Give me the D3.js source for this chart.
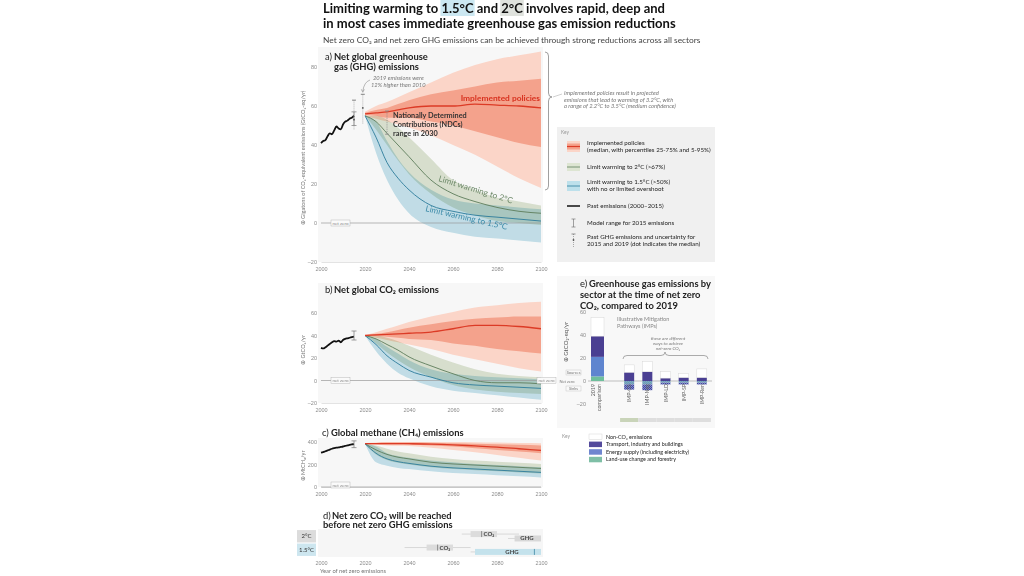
<!DOCTYPE html>
<html><head><meta charset="utf-8">
<script src="https://cdn.jsdelivr.net/npm/d3@7"></script>
<style>
body{margin:0;background:#fff;}
svg{display:block;font-family:Lato,"Open Sans",sans-serif;}
</style></head><body>
<svg id="chart" width="1024" height="576"></svg>
<script>
// ---------- data ----------
const xTicks = [2000, 2020, 2040, 2060, 2080, 2100];
const projYears = [2020, 2025, 2030, 2035, 2040, 2050, 2060, 2070, 2080, 2090, 2100];
const pastYears = [2000, 2001, 2002, 2003, 2004, 2005, 2006, 2007, 2008, 2009, 2010, 2011, 2012, 2013, 2014, 2015];

// a) net GHG, GtCO2-eq/yr
const ghgPast   = [41, 42, 42.5, 44.5, 46, 45.5, 47.5, 49.5, 48.5, 48, 50.5, 52, 52.5, 53.5, 54, 55];
const ghgImplMed = [56, 56.5, 57, 58, 59, 60, 60, 61, 60.5, 60, 59];
const ghgImpl25  = [55.5, 55, 54, 54, 54, 52, 50, 47, 44, 41, 39];
const ghgImpl75  = [56.5, 58, 59, 61, 63, 66, 68, 70, 72, 73, 74];
const ghgImpl5   = [55, 53.5, 52, 50.5, 49, 45, 40, 35, 29, 23, 18];
const ghgImpl95  = [57, 60, 62, 64.5, 67, 72, 77, 81, 84, 86, 88];
const ghg2Med  = [55, 52, 46, 40, 34, 22, 15, 11, 8, 6, 5];
const ghg2Lo   = [55, 48, 40, 32, 25, 15, 8, 4, 1, 0, -1];
const ghg2Hi   = [55, 55, 53, 49, 44, 33, 22, 17, 13, 11, 9];
const ghg15Med = [55, 44, 31, 23, 17, 9, 6, 4, 3, 2, 1];
const ghg15Lo  = [55, 36, 22, 12, 5, -2, -5, -7, -8, -9, -10];
const ghg15Hi  = [55, 52, 42, 33, 26, 17, 12, 10, 9, 8, 7];

// b) net CO2, GtCO2/yr
const co2Past   = [29, 28.5, 29.5, 31, 32.5, 34, 35, 34.5, 35.5, 34, 36, 37, 37.5, 38, 38.5, 39];
const co2ImplMed = [40, 40.5, 41, 41.5, 42, 43, 46, 49, 49, 48, 46];
const co2Impl25  = [40, 39.5, 39, 38, 37, 36, 33, 31, 28, 26, 24];
const co2Impl75  = [40, 41.5, 43, 45, 47, 50, 53, 55, 56, 57, 57];
const co2Impl5   = [39.5, 38, 36, 34, 32, 28, 23, 19, 15, 11, 8];
const co2Impl95  = [40.5, 43, 46, 49, 52, 57, 61, 65, 67, 69, 70];
const co22Med  = [40, 37, 32, 27, 21, 13, 6, 0, -2, -2, -3];
const co22Lo   = [40, 33, 25, 18, 12, 3, -4, -8, -10, -11, -12];
const co22Hi   = [40, 40, 38, 35, 31, 23, 16, 10, 6, 4, 3];
const co215Med = [40, 32, 22, 15, 9, 3, -2, -4, -5, -6, -7];
const co215Lo  = [40, 26, 15, 7, 2, -5, -9, -11, -13, -15, -17];
const co215Hi  = [40, 37, 30, 24, 18, 10, 6, 4, 3, 2, 1];

// c) methane, MtCH4/yr
const ch4Past   = [305, 310, 318, 325, 333, 340, 345, 349, 352, 356, 360, 365, 370, 374, 378, 382];
const ch4ImplMed = [385, 386, 386, 386, 385, 382, 375, 365, 355, 340, 325];
const ch4Impl25  = [383, 380, 378, 377, 375, 370, 360, 345, 330, 315, 300];
const ch4Impl75  = [388, 392, 395, 395, 395, 393, 390, 385, 380, 375, 370];
const ch4Impl5   = [380, 375, 370, 367, 365, 350, 330, 310, 285, 260, 235];
const ch4Impl95  = [392, 396, 400, 400, 400, 400, 400, 398, 395, 392, 390];
const ch42Med  = [385, 330, 290, 265, 250, 220, 205, 195, 185, 175, 165];
const ch42Lo   = [385, 290, 240, 215, 200, 175, 160, 150, 140, 130, 120];
const ch42Hi   = [385, 370, 340, 315, 300, 270, 250, 235, 225, 215, 205];
const ch415Med = [385, 300, 250, 225, 210, 185, 170, 160, 150, 140, 130];
const ch415Lo  = [385, 220, 190, 170, 160, 140, 125, 115, 105, 95, 85];
const ch415Hi  = [385, 360, 300, 275, 260, 235, 220, 205, 195, 185, 175];

// d) year of net zero
const nzCats = ["2°C", "1.5°C"];
const nzCo2Range = [[2064, 2090], [2038, 2068]];
const nzCo2Box   = [[2068, 2080], [2048, 2060]];
const nzCo2Med   = [2073, 2053];
const nzGhgRange = [[2085, 2100], [2068, 2100]];
const nzGhgBox   = [[2088, 2100], [2070, 2100]];
const nzGhgMed   = [null, 2097];

// e) sector emissions at net zero CO2
const eBars      = ["2019 comparison", "IMP-GS", "IMP-Neg", "IMP-LD", "IMP-SP", "IMP-Ren"];
const eLand      = [4, -3, -3, -1.5, -1.5, -1.5];
const eEnergy    = [17, -4.5, -5, -1.5, -1.5, -1.5];
const eTransport = [18, 7.5, 8, 2.5, 3, 3];
const eNonCO2    = [16, 6.5, 9, 5.5, 3.5, 7.5];
const eCategory  = [null, "2°C", "1.5°C", "1.5°C", "1.5°C", "1.5°C"];
const eTicks = [-20, 0, 20, 40, 60];

// ---------- drawing ----------
const svg = d3.select("#chart");
const defs = svg.append("defs");
const col = {
  impl5: "#fbd5c8", impl25: "#f4a28c", implLine: "#dc3b26",
  c2Band: "#dde5d2", c2Line: "#5e7d5b", c15Band: "#bde0eb", c15Line: "#2c7c9b",
  tick: "#8c8c8c", text: "#222"
};
const PT = 9.4; // panel title size

function checker(id, a, b) {
  const p = defs.append("pattern").attr("id", id).attr("width", 2).attr("height", 2)
    .attr("patternUnits", "userSpaceOnUse");
  p.append("rect").attr("width", 2).attr("height", 2).attr("fill", a);
  p.append("rect").attr("width", 1).attr("height", 1).attr("fill", b);
  p.append("rect").attr("x", 1).attr("y", 1).attr("width", 1).attr("height", 1).attr("fill", b);
}
checker("negEnergy", "#7b8cd2", "#4a4596");
checker("negLand", "#7fbfa6", "#6b86cf");

const x = d3.scaleLinear().domain([2000, 2100]).range([321, 541]);

function txt(g, s, px, py, size, opts = {}) {
  const t = g.append("text").attr("x", px).attr("y", py).attr("font-size", size)
    .attr("fill", opts.fill || col.text).text(s);
  if (opts.bold) t.attr("font-weight", "bold");
  if (opts.italic) t.attr("font-style", "italic");
  if (opts.anchor) t.attr("text-anchor", opts.anchor);
  if (opts.rotate) t.attr("transform", `rotate(${opts.rotate},${px},${py})`);
  return t;
}

function netZeroTag(g, px, py) {
  g.append("rect").attr("x", px).attr("y", py - 3).attr("width", 19).attr("height", 6)
    .attr("fill", "#fafafa").attr("stroke", "#aaa").attr("stroke-width", 0.4);
  txt(g, "net zero", px + 9.5, py + 1.8, 4.5, { fill: "#888", anchor: "middle" });
}

function vBrace(g, bx, y1, y2, tipY, w) {
  const p = d3.path();
  p.moveTo(bx, y1);
  p.quadraticCurveTo(bx + w / 2, y1, bx + w / 2, y1 + 4);
  p.lineTo(bx + w / 2, tipY - 4);
  p.quadraticCurveTo(bx + w / 2, tipY, bx + w, tipY);
  p.quadraticCurveTo(bx + w / 2, tipY, bx + w / 2, tipY + 4);
  p.lineTo(bx + w / 2, y2 - 4);
  p.quadraticCurveTo(bx + w / 2, y2, bx, y2);
  g.append("path").attr("d", p.toString()).attr("fill", "none").attr("stroke", "#777").attr("stroke-width", 0.7);
}

function scenarioPanel(o) {
  const g = svg.append("g");
  const y = d3.scaleLinear().domain(o.yDomain).range(o.yRange);
  g.append("rect").attr("x", 318).attr("y", o.bgTop).attr("width", 225)
    .attr("height", o.yRange[0] - o.bgTop).attr("fill", "#f7f7f7");

  const area = (lo, hi) => d3.area().curve(d3.curveMonotoneX)
    .x((d, i) => x(projYears[i])).y0((d, i) => y(lo[i])).y1((d, i) => y(hi[i]))(projYears);
  const line = (v, yrs) => d3.line().curve(d3.curveMonotoneX)
    .x((d, i) => x(yrs[i])).y((d, i) => y(v[i]))(yrs);

  g.append("path").attr("d", area(o.impl5, o.impl95)).attr("fill", col.impl5);
  g.append("path").attr("d", area(o.impl25, o.impl75)).attr("fill", col.impl25);
  g.append("path").attr("d", area(o.c2Lo, o.c2Hi)).attr("fill", col.c2Band)
    .attr("opacity", 0.95).style("mix-blend-mode", "multiply");
  g.append("path").attr("d", area(o.c15Lo, o.c15Hi)).attr("fill", col.c15Band)
    .attr("opacity", 0.85).style("mix-blend-mode", "multiply");

  if (o.zero) {
    g.append("line").attr("x1", 321).attr("x2", 541).attr("y1", y(0)).attr("y2", y(0))
      .attr("stroke", "#9a9a9a").attr("stroke-width", 0.7);
    netZeroTag(g, 331, y(0));
  }

  g.append("path").attr("d", line(o.c2Med, projYears)).attr("fill", "none").attr("stroke", col.c2Line).attr("stroke-width", 0.9);
  g.append("path").attr("d", line(o.c15Med, projYears)).attr("fill", "none").attr("stroke", col.c15Line).attr("stroke-width", 0.9);
  g.append("path").attr("d", line(o.implMed, projYears)).attr("fill", "none").attr("stroke", col.implLine).attr("stroke-width", 1.3);
  g.append("path").attr("d", d3.line().curve(d3.curveMonotoneX).x((d, i) => x(pastYears[i])).y(d => y(d))(o.past))
    .attr("fill", "none").attr("stroke", "#111").attr("stroke-width", 1.8);

  // model range I-bar for 2015
  const [m0, m1] = o.modelRange;
  const ib = g.append("g").attr("stroke", "#777").attr("stroke-width", 0.7);
  ib.append("line").attr("x1", x(2015)).attr("x2", x(2015)).attr("y1", y(m0)).attr("y2", y(m1));
  ib.append("line").attr("x1", x(2015) - 2.5).attr("x2", x(2015) + 2.5).attr("y1", y(m0)).attr("y2", y(m0));
  ib.append("line").attr("x1", x(2015) - 2.5).attr("x2", x(2015) + 2.5).attr("y1", y(m1)).attr("y2", y(m1));

  const ax = g.append("g").attr("transform", `translate(0,${o.yRange[0]})`)
    .call(d3.axisBottom(x).tickValues(xTicks).tickSize(0).tickPadding(5).tickFormat(d3.format("d")));
  ax.select(".domain").attr("stroke", "#d0d0d0").attr("stroke-width", 0.6);
  ax.selectAll("text").attr("font-size", 5.5).attr("fill", col.tick).attr("font-family", null);
  const ay = g.append("g").attr("transform", "translate(320,0)")
    .call(d3.axisLeft(y).tickValues(o.yTicks).tickSize(0).tickPadding(3).tickFormat(d => d < 0 ? "–" + (-d) : d));
  ay.select(".domain").remove();
  ay.selectAll("text").attr("font-size", 5.5).attr("fill", col.tick).attr("font-family", null);

  txt(g, o.yLabel, 305, o.yLabelY, 5.6, { fill: "#777", anchor: "middle", rotate: -90 });
  return { g, y };
}

// title
const title = svg.append("g");
const t1 = "Limiting warming to 1.5°C and 2°C involves rapid, deep and";
const l1 = txt(title, t1, 323, 13, 13, { bold: true, fill: "#111" });
txt(title, "in most cases immediate greenhouse gas emission reductions", 323, 28, 13, { bold: true, fill: "#111" });
[["1.5°C", "#cbe7f1"], ["2°C", "#dfe2dd"]].forEach(([s, c]) => {
  const i = t1.indexOf(s), n = l1.node();
  const a = n.getExtentOfChar(i), b = n.getExtentOfChar(i + s.length - 1);
  title.insert("rect", "text").attr("x", a.x - 1).attr("y", a.y).attr("width", b.x + b.width - a.x + 2)
    .attr("height", a.height).attr("fill", c);
});
txt(title, "Net zero  CO₂ and net zero GHG emissions can be achieved through strong reductions across all sectors", 323, 43, 8.4, { fill: "#444" });

// a) GHG panel
const pa = scenarioPanel({
  yDomain: [-20, 80], yRange: [262, 67], bgTop: 47, yTicks: [-20, 0, 20, 40, 60, 80], zero: true,
  past: ghgPast, implMed: ghgImplMed, impl25: ghgImpl25, impl75: ghgImpl75, impl5: ghgImpl5, impl95: ghgImpl95,
  c2Med: ghg2Med, c2Lo: ghg2Lo, c2Hi: ghg2Hi, c15Med: ghg15Med, c15Lo: ghg15Lo, c15Hi: ghg15Hi,
  modelRange: [50, 57], yLabel: "⊕ Gigatons of CO₂-equivalent emissions (GtCO₂-eq/yr)", yLabelY: 158
});
txt(pa.g, "a)", 325, 60, PT, {});
txt(pa.g, "Net global greenhouse", 334, 60, PT, { bold: true });
txt(pa.g, "gas (GHG) emissions", 334, 70, PT, { bold: true });
txt(pa.g, "Implemented policies", 540, 101, 8.4, { bold: true, fill: "#d8321f", anchor: "end" });
txt(pa.g, "Nationally Determined", 393, 118, 7.3, { bold: true, fill: "#333" });
txt(pa.g, "Contributions (NDCs)", 393, 127, 7.3, { bold: true, fill: "#333" });
txt(pa.g, "range in 2030", 393, 136, 7.3, { bold: true, fill: "#333" });
txt(pa.g, "Limit warming to 2°C", 438, 181, 8.3, { fill: "#6e8a6a", rotate: 17 });
txt(pa.g, "Limit warming to 1.5°C", 425, 211, 8.3, { fill: "#3b8aa8", rotate: 13 });
// NDC range 2030
const ndc = pa.g.append("g").attr("stroke", "#888").attr("stroke-width", 0.7);
ndc.append("line").attr("x1", x(2030)).attr("x2", x(2030)).attr("y1", pa.y(45.5)).attr("y2", pa.y(57.5)).attr("stroke-dasharray", "1.2,1");
ndc.append("line").attr("x1", x(2030) - 2).attr("x2", x(2030) + 2).attr("y1", pa.y(45.5)).attr("y2", pa.y(45.5));
ndc.append("line").attr("x1", x(2030) - 2).attr("x2", x(2030) + 2).attr("y1", pa.y(57.5)).attr("y2", pa.y(57.5));
// past uncertainty 2015 / 2019
[[2015, 48, 63, 53], [2019, 51, 66, 59]].forEach(([yr, lo, hi, med]) => {
  pa.g.append("line").attr("x1", x(yr)).attr("x2", x(yr)).attr("y1", pa.y(lo)).attr("y2", pa.y(hi))
    .attr("stroke", "#888").attr("stroke-width", 0.6).attr("stroke-dasharray", "1,1");
  pa.g.append("line").attr("x1", x(yr) - 2).attr("x2", x(yr) + 2).attr("y1", pa.y(hi)).attr("y2", pa.y(hi)).attr("stroke", "#555").attr("stroke-width", 0.7);
  pa.g.append("circle").attr("cx", x(yr)).attr("cy", pa.y(med)).attr("r", 0.9).attr("fill", "#555");
});
txt(pa.g, "2019 emissions were", 373, 80, 5.8, { italic: true, fill: "#777" });
txt(pa.g, "12% higher than 2010", 371, 86.5, 5.8, { italic: true, fill: "#777" });
pa.g.append("path").attr("d", `M370,80 Q364,82 ${x(2019)},${pa.y(66) - 3}`).attr("fill", "none").attr("stroke", "#777").attr("stroke-width", 0.5);
pa.g.append("path").attr("d", `M${x(2019) - 1.5},${pa.y(66) - 5} L${x(2019)},${pa.y(66) - 2} L${x(2019) + 1.5},${pa.y(66) - 5}`).attr("fill", "none").attr("stroke", "#777").attr("stroke-width", 0.5);
vBrace(pa.g, 545, 52, 190, 97, 7);
pa.g.append("line").attr("x1", 553).attr("y1", 97).attr("x2", 562).attr("y2", 94).attr("stroke", "#888").attr("stroke-width", 0.4);
txt(pa.g, "Implemented policies result in projected", 564, 95, 5.8, { italic: true, fill: "#777" });
txt(pa.g, "emissions that lead to warming of 3.2°C, with", 564, 101.5, 5.8, { italic: true, fill: "#777" });
txt(pa.g, "a range of 2.2°C to 3.5°C (medium confidence)", 564, 108, 5.8, { italic: true, fill: "#777" });

// key for a-c
const KF = 6.2;
const key = svg.append("g");
key.append("rect").attr("x", 557).attr("y", 127).attr("width", 158).attr("height", 135).attr("fill", "#f0f0f0");
txt(key, "Key", 561, 134, 4.8, { fill: "#999" });
key.append("rect").attr("x", 567).attr("y", 141).attr("width", 13).attr("height", 11).attr("fill", col.impl5);
key.append("rect").attr("x", 567).attr("y", 143.5).attr("width", 13).attr("height", 6).attr("fill", col.impl25);
key.append("line").attr("x1", 567).attr("x2", 580).attr("y1", 146.5).attr("y2", 146.5).attr("stroke", col.implLine).attr("stroke-width", 1.2);
txt(key, "Implemented policies", 587, 145, KF, {});
txt(key, "(median, with percentiles 25-75% and 5-95%)", 587, 151.5, KF, {});
key.append("rect").attr("x", 567).attr("y", 163).attr("width", 13).attr("height", 8).attr("fill", col.c2Band);
key.append("line").attr("x1", 567).attr("x2", 580).attr("y1", 167).attr("y2", 167).attr("stroke", col.c2Line).attr("stroke-width", 0.8);
txt(key, "Limit warming to 2°C (>67%)", 587, 169, KF, {});
key.append("rect").attr("x", 567).attr("y", 181).attr("width", 13).attr("height", 10).attr("fill", col.c15Band);
key.append("line").attr("x1", 567).attr("x2", 580).attr("y1", 186).attr("y2", 186).attr("stroke", col.c15Line).attr("stroke-width", 0.8);
txt(key, "Limit warming to 1.5°C (>50%)", 587, 184, KF, {});
txt(key, "with no or limited overshoot", 587, 190.5, KF, {});
key.append("line").attr("x1", 567).attr("x2", 580).attr("y1", 206).attr("y2", 206).attr("stroke", "#111").attr("stroke-width", 1.5);
txt(key, "Past emissions (2000–2015)", 587, 208, KF, {});
const ki = key.append("g").attr("stroke", "#666").attr("stroke-width", 0.6);
ki.append("line").attr("x1", 573.5).attr("x2", 573.5).attr("y1", 219).attr("y2", 227);
ki.append("line").attr("x1", 571.5).attr("x2", 575.5).attr("y1", 219).attr("y2", 219);
ki.append("line").attr("x1", 571.5).attr("x2", 575.5).attr("y1", 227).attr("y2", 227);
txt(key, "Model range for 2015 emissions", 587, 225, KF, {});
key.append("line").attr("x1", 573.5).attr("x2", 573.5).attr("y1", 234).attr("y2", 247).attr("stroke", "#777").attr("stroke-width", 0.6).attr("stroke-dasharray", "1,1");
key.append("line").attr("x1", 571.5).attr("x2", 575.5).attr("y1", 234).attr("y2", 234).attr("stroke", "#555").attr("stroke-width", 0.6);
key.append("circle").attr("cx", 573.5).attr("cy", 240).attr("r", 0.9).attr("fill", "#555");
txt(key, "Past GHG emissions and uncertainty for", 587, 239, KF, {});
txt(key, "2015 and 2019 (dot indicates the median)", 587, 245.5, KF, {});

// b) CO2 panel
const pb = scenarioPanel({
  yDomain: [-20, 60], yRange: [403, 313], bgTop: 283, yTicks: [-20, 0, 20, 40, 60], zero: true,
  past: co2Past, implMed: co2ImplMed, impl25: co2Impl25, impl75: co2Impl75, impl5: co2Impl5, impl95: co2Impl95,
  c2Med: co22Med, c2Lo: co22Lo, c2Hi: co22Hi, c15Med: co215Med, c15Lo: co215Lo, c15Hi: co215Hi,
  modelRange: [36, 44], yLabel: "⊕ GtCO₂/yr", yLabelY: 350
});
txt(pb.g, "b)", 325, 293, PT, {});
txt(pb.g, "Net global CO₂ emissions", 334, 293, PT, { bold: true });
netZeroTag(pb.g, 537, pb.y(0));

// c) CH4 panel
const pc = scenarioPanel({
  yDomain: [0, 400], yRange: [487, 442], bgTop: 438, yTicks: [0, 200, 400], zero: false,
  past: ch4Past, implMed: ch4ImplMed, impl25: ch4Impl25, impl75: ch4Impl75, impl5: ch4Impl5, impl95: ch4Impl95,
  c2Med: ch42Med, c2Lo: ch42Lo, c2Hi: ch42Hi, c15Med: ch415Med, c15Lo: ch415Lo, c15Hi: ch415Hi,
  modelRange: [350, 410], yLabel: "⊕ MtCH₄/yr", yLabelY: 466
});
txt(pc.g, "c)", 322, 436, PT, {});
txt(pc.g, "Global methane (CH₄) emissions", 331, 436, PT, { bold: true });
pc.g.append("line").attr("x1", 321).attr("x2", 541).attr("y1", 487).attr("y2", 487).attr("stroke", "#9a9a9a").attr("stroke-width", 0.7);
netZeroTag(pc.g, 331, 485);

// d) net zero years
const gd = svg.append("g");
txt(gd, "d)", 323, 519, PT, {});
txt(gd, "Net zero  CO₂ will be reached", 332, 519, PT, { bold: true });
txt(gd, "before  net zero  GHG emissions", 323, 528, PT, { bold: true });
const rowY = d3.scaleBand().domain(nzCats).range([529, 557]).padding(0.08);
gd.append("rect").attr("x", 318).attr("y", 529).attr("width", 225).attr("height", 28).attr("fill", "#f6f6f6");
nzCats.forEach((c, i) => {
  const ry = rowY(c), h = rowY.bandwidth();
  gd.append("rect").attr("x", 297).attr("y", ry).attr("width", 19).attr("height", h)
    .attr("fill", i === 0 ? "#dcdcdc" : "#cde6ef");
  txt(gd, c, 306.5, ry + h / 2 + 2, 6, { anchor: "middle", fill: "#333" });
  const cy = ry + 4, gy = ry + h - 4;
  gd.append("line").attr("x1", x(nzCo2Range[i][0])).attr("x2", x(nzCo2Range[i][1])).attr("y1", cy).attr("y2", cy).attr("stroke", "#bbb").attr("stroke-width", 0.5);
  gd.append("rect").attr("x", x(nzCo2Box[i][0])).attr("y", cy - 3).attr("width", x(nzCo2Box[i][1]) - x(nzCo2Box[i][0])).attr("height", 6).attr("fill", "#dcdcdc");
  gd.append("line").attr("x1", x(nzCo2Med[i])).attr("x2", x(nzCo2Med[i])).attr("y1", cy - 3).attr("y2", cy + 3).attr("stroke", "#555").attr("stroke-width", 0.6);
  txt(gd, "CO₂", x(nzCo2Med[i]) + 2, cy + 2, 6, { bold: true, fill: "#444" });
  gd.append("line").attr("x1", x(nzGhgRange[i][0])).attr("x2", x(nzGhgRange[i][1])).attr("y1", gy).attr("y2", gy).attr("stroke", "#bbb").attr("stroke-width", 0.5);
  gd.append("rect").attr("x", x(nzGhgBox[i][0])).attr("y", gy - 3).attr("width", x(nzGhgBox[i][1]) - x(nzGhgBox[i][0])).attr("height", 6)
    .attr("fill", i === 0 ? "#d8d8d8" : "#c4e2ec");
  if (nzGhgMed[i]) gd.append("line").attr("x1", x(nzGhgMed[i])).attr("x2", x(nzGhgMed[i])).attr("y1", gy - 3).attr("y2", gy + 3).attr("stroke", "#2c7c9b").attr("stroke-width", 0.7);
  txt(gd, "GHG", i === 0 ? 527 : 512, gy + 2, 6, { bold: true, fill: "#444", anchor: "middle" });
});
const dax = gd.append("g").attr("transform", "translate(0,557)")
  .call(d3.axisBottom(x).tickValues(xTicks).tickSize(0).tickPadding(4).tickFormat(d3.format("d")));
dax.select(".domain").remove();
dax.selectAll("text").attr("font-size", 5.5).attr("fill", col.tick).attr("font-family", null);
txt(gd, "Year of net zero emissions", 320, 573, 5.8, { fill: "#777" });

// e) sector bars
const ge = svg.append("g");
ge.append("rect").attr("x", 557).attr("y", 276).attr("width", 158).attr("height", 152).attr("fill", "#f8f8f8");
txt(ge, "e)", 580, 287, PT, {});
txt(ge, "Greenhouse gas emissions by", 589, 287, PT, { bold: true });
txt(ge, "sector at the time of net zero", 580, 298, PT, { bold: true });
txt(ge, "CO₂, compared to 2019", 580, 309, PT, { bold: true });
const yE = d3.scaleLinear().domain([-20, 60]).range([404, 312]);
const xE = d3.scaleBand().domain(eBars.slice(1)).range([616, 715]).padding(0.45);
const barX = (i) => i === 0 ? 591 : xE(eBars[i]);
const barW = (i) => i === 0 ? 13 : xE.bandwidth();
const eay = ge.append("g").attr("transform", "translate(588,0)")
  .call(d3.axisLeft(yE).tickValues(eTicks).tickSize(0).tickPadding(2).tickFormat(d => d < 0 ? "–" + (-d) : d));
eay.select(".domain").remove();
eay.selectAll("text").attr("font-size", 5.5).attr("fill", col.tick).attr("font-family", null);
txt(ge, "⊕ GtCO₂-eq/yr", 568, 342, 6, { fill: "#555", anchor: "middle", rotate: -90 });
ge.append("line").attr("x1", 588).attr("x2", 712).attr("y1", yE(0)).attr("y2", yE(0)).attr("stroke", "#999").attr("stroke-width", 0.6);
[["Sources", 373], ["Sinks", 389]].forEach(([s, yy]) => {
  ge.append("rect").attr("x", 566).attr("y", yy - 3).attr("width", 15).attr("height", 5).attr("fill", "#fafafa").attr("stroke", "#aaa").attr("stroke-width", 0.3);
  txt(ge, s, 573.5, yy + 1, 4, { fill: "#777", anchor: "middle" });
});
txt(ge, "Net zero", 567, yE(0) + 1.5, 4, { fill: "#777", anchor: "middle" });

const eSeg = [
  { v: eLand, pos: "#6fbf9c", neg: "url(#negLand)" },
  { v: eEnergy, pos: "#5f85cf", neg: "url(#negEnergy)" },
  { v: eTransport, pos: "#4a3f92", neg: "#4a3f92" },
  { v: eNonCO2, pos: "#ffffff", neg: "#ffffff" }
];
eBars.forEach((b, i) => {
  let up = 0, down = 0;
  eSeg.forEach(s => {
    const v = s.v[i];
    let y0, y1;
    if (v >= 0) { y0 = up; y1 = up + v; up = y1; } else { y0 = down + v; y1 = down; down = y0; }
    const r = ge.append("rect").attr("x", barX(i)).attr("width", barW(i))
      .attr("y", yE(y1)).attr("height", yE(y0) - yE(y1)).attr("fill", v >= 0 ? s.pos : s.neg);
    if (s.v === eNonCO2) r.attr("stroke", "#d0d0d0").attr("stroke-width", 0.4);
  });
  if (i > 0) {
    txt(ge, b, barX(i) + barW(i) / 2 + 2, 384, 5.3, { fill: "#666", anchor: "end", rotate: -90 });
    ge.append("rect").attr("x", barX(i) - xE.step() * 0.225).attr("y", 418).attr("width", xE.step())
      .attr("height", 4).attr("fill", eCategory[i] === "2°C" ? "#c9d4b9" : "#dedede");
  }
});
txt(ge, "2019", 595, 384, 5.3, { fill: "#666", anchor: "end", rotate: -90 });
txt(ge, "comparison", 601, 384, 5.3, { fill: "#666", anchor: "end", rotate: -90 });
txt(ge, "Illustrative Mitigation", 617, 321, 5.6, { fill: "#888" });
txt(ge, "Pathways (IMPs)", 617, 327.5, 5.6, { fill: "#888" });
txt(ge, "these are different", 668, 340, 4.6, { fill: "#777", italic: true, anchor: "middle" });
txt(ge, "ways to achieve", 668, 345, 4.6, { fill: "#777", italic: true, anchor: "middle" });
txt(ge, "net-zero CO₂", 668, 350, 4.6, { fill: "#777", italic: true, anchor: "middle" });
const hb = d3.path();
hb.moveTo(623, 359); hb.quadraticCurveTo(623, 355.5, 627, 355.5); hb.lineTo(661, 355.5);
hb.quadraticCurveTo(665, 355.5, 665, 352); hb.quadraticCurveTo(665, 355.5, 669, 355.5);
hb.lineTo(704, 355.5); hb.quadraticCurveTo(708, 355.5, 708, 359);
ge.append("path").attr("d", hb.toString()).attr("fill", "none").attr("stroke", "#777").attr("stroke-width", 0.6);

// key for e
const ke = svg.append("g");
txt(ke, "Key", 562, 438, 4.8, { fill: "#999" });
[["Non-CO₂ emissions", "#ffffff"], ["Transport, industry and buildings", "#544a9c"],
 ["Energy supply (including electricity)", "#6f86cf"], ["Land-use change and forestry", "#7fbfa6"]].forEach(([s, f], i) => {
  const yy = 434 + i * 7.6;
  ke.append("rect").attr("x", 589).attr("y", yy).attr("width", 13).attr("height", 5.5).attr("fill", f)
    .attr("stroke", i === 0 ? "#ccc" : "none").attr("stroke-width", 0.4);
  txt(ke, s, 606, yy + 4.6, 5.4, {});
});
</script>
</body></html>
